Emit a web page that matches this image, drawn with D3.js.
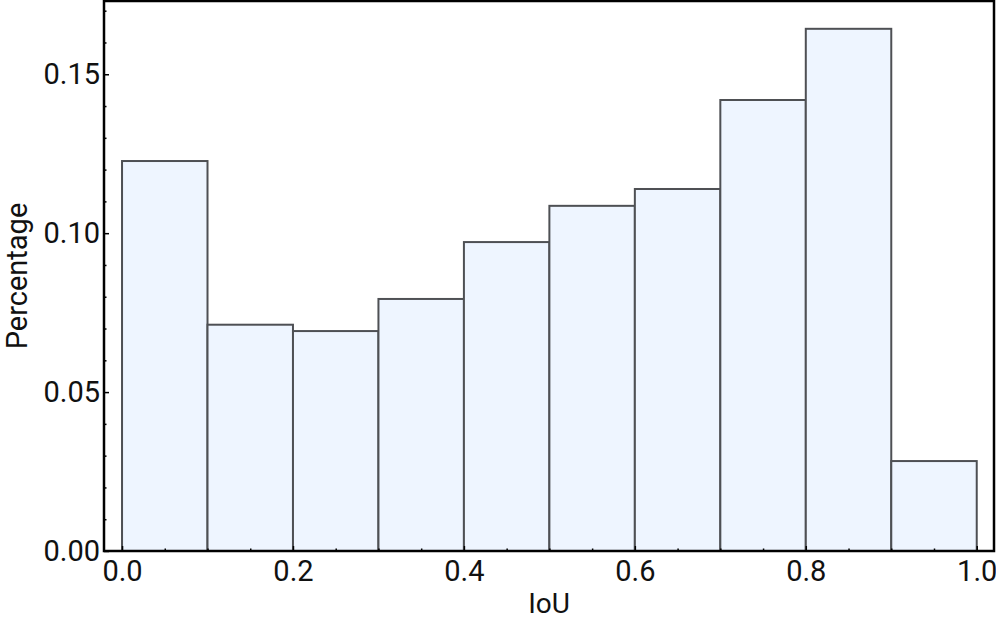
<!DOCTYPE html>
<html><head><meta charset="utf-8">
<script src="https://cdn.jsdelivr.net/npm/d3@7"></script>
<style>
html,body{margin:0;padding:0;background:#fff;}
svg text{font-family:Roboto,"Noto Sans",sans-serif;fill:#111;}
</style></head>
<body>
<svg id="chart" width="996" height="620"></svg>
<script>
const binStarts = [0.0,0.1,0.2,0.3,0.4,0.5,0.6,0.7,0.8,0.9];
const binWidth = 0.1;
const values = [0.1227,0.0712,0.0692,0.0793,0.0972,0.1086,0.1139,0.1419,0.1643,0.0283];
const xMajorTicks = [0.0,0.2,0.4,0.6,0.8,1.0];
const xMinorTicks = [0.05,0.1,0.15,0.25,0.3,0.35,0.45,0.5,0.55,0.65,0.7,0.75,0.85,0.9,0.95];
const yMajorTicks = [0.00,0.05,0.10,0.15];
const yMinorTicks = [0.01,0.02,0.03,0.04,0.06,0.07,0.08,0.09,0.11,0.12,0.13,0.14,0.16,0.17];
const xLabel = "IoU", yLabel = "Percentage";

const svg = d3.select("#chart");
const L = 104, R = 994, T = 1, B = 551;
const x = d3.scaleLinear().domain([-0.0211, 1.0202]).range([L, R]);
const y = d3.scaleLinear().domain([0, 0.17305]).range([B, T]);

// bars
svg.append("g").selectAll("rect").data(binStarts).join("rect")
  .attr("x", (d)=>x(d))
  .attr("y", (d,i)=>y(values[i]))
  .attr("width", d=>x(d+binWidth)-x(d))
  .attr("height", (d,i)=>y(0)-y(values[i]))
  .attr("fill", "#eef5ff")
  .attr("stroke", "#4e5054")
  .attr("stroke-width", 2);

// axes
const axB = svg.append("g").attr("transform", `translate(0,${B})`);
axB.call(d3.axisBottom(x).tickValues(xMajorTicks).tickFormat(d3.format(".1f")).tickSize(-5).tickPadding(9));
const axBm = svg.append("g").attr("transform", `translate(0,${B})`);
axBm.call(d3.axisBottom(x).tickValues(xMinorTicks).tickFormat("").tickSize(-2.5));
const axL = svg.append("g").attr("transform", `translate(${L},0)`);
axL.call(d3.axisLeft(y).tickValues(yMajorTicks).tickFormat(d3.format(".2f")).tickSize(-5).tickPadding(4));
const axLm = svg.append("g").attr("transform", `translate(${L},0)`);
axLm.call(d3.axisLeft(y).tickValues(yMinorTicks).tickFormat("").tickSize(-2.5));
svg.selectAll(".domain").remove();
svg.selectAll(".tick line").attr("stroke", "#000").attr("stroke-width", 1.5);
svg.selectAll(".tick text").attr("font-size", 29).attr("fill", "#111")
  .attr("font-family", "Roboto, sans-serif");
axB.selectAll(".tick text").attr("dy", "0.71em");

// frame
svg.append("rect").attr("x", L).attr("y", T).attr("width", R-L).attr("height", B-T)
  .attr("fill", "none").attr("stroke", "#000").attr("stroke-width", 2.5);

svg.append("text").attr("x", 549).attr("y", 613).attr("text-anchor","middle")
  .attr("font-size", 28).text(xLabel);
svg.append("text").attr("transform", `translate(27,276) rotate(-90)`)
  .attr("text-anchor","middle").attr("font-size", 29).text(yLabel);
</script>
</body></html>
